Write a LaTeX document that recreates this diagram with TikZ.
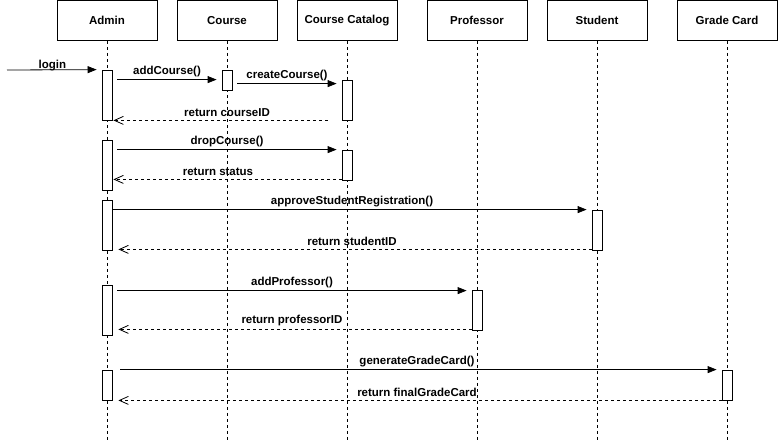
\documentclass[tikz,border=0pt]{standalone}
\usepackage{fontspec}
\setmainfont{Liberation Sans}
\usetikzlibrary{arrows.meta}
\tikzset{
	head/.style={draw, minimum width=100pt, minimum height=40pt, font=\fontsize{11.5}{14}\selectfont\bfseries},
	life/.style={dash pattern=on 3pt off 3pt},
	act/.style={draw, fill=white, minimum width=10pt, inner sep=0pt},
	call/.style={-{Triangle[length=9pt,width=7pt]}, shorten <=5pt, shorten >=5pt},
	ret/.style={dash pattern=on 3pt off 3pt, -{Straight Barb[length=9pt,width=8pt]}, shorten >=1pt},
	msg/.style={midway, above, inner sep=2pt, font=\fontsize{11.5}{14}\selectfont\bfseries}
}
\begin{document}
\begin{tikzpicture}[x=1pt, y=-1pt, line width=0.8pt]
	\useasboundingbox (0,0) rectangle (778,441);
	\node[head] (admin) at (107,20.5) {Admin};
	\node[head] (course) at (227,20.5) {Course};
	\node[head] (catalog) at (347,20.5) {Course Catalog};
	\node[head] (professor) at (477,20.5) {Professor};
	\node[head] (student) at (597,20.5) {Student};
	\node[head] (grade) at (727,20.5) {Grade Card};
	\foreach \n/\x in {admin/107, course/227, catalog/347, professor/477, student/597, grade/727}{
		\coordinate (\n end) at (\x,441);
		\draw[life] (\n) -- (\n end);
	}

	\node[act, minimum height=50pt] (ad1) at (107,95) {};
	\node[act, minimum height=50pt] (ad2) at (107,165) {};
	\node[act, minimum height=50pt] (ad3) at (107,225) {};
	\node[act, minimum height=50pt] (ad4) at (107,310) {};
	\node[act, minimum height=30pt] (ad5) at (107,385) {};
	\node[act, minimum height=20pt] (co1) at (227,80) {};
	\node[act, minimum height=40pt] (cc1) at (347,100) {};
	\node[act, minimum height=30pt] (cc2) at (347,165) {};
	\node[act, minimum height=40pt] (st1) at (597,230) {};
	\node[act, minimum height=40pt] (pr1) at (477,310) {};
	\node[act, minimum height=30pt] (gc1) at (727,385) {};

	\coordinate (start) at (7,70);
	\draw[call, shorten <=0pt] (start) -- (ad1.north west) node[msg, yshift=-4pt, xshift=-2pt]{login};
	\draw[call] ([yshift=-10pt]ad1.north east) -- ([yshift=-10pt]ad1.north east -| co1.west) node[msg]{addCourse()};
	\draw[call] ([yshift=-14pt]co1.north east) -- ([yshift=-14pt]co1.north east -| cc1.west) node[msg]{createCourse()};
	\draw[ret, shorten <=14pt] (cc1.south west) -- (cc1.south west -| ad1.east) node[msg, inner sep=3pt]{return courseID};
	\draw[call] ([yshift=-10pt]ad2.north east) -- ([yshift=-10pt]ad2.north east -| cc2.west) node[msg]{dropCourse()};
	\draw[ret] ([yshift=1pt]cc2.south west) -- ([yshift=1pt]cc2.south west -| ad2.east) node[msg, inner sep=3pt, xshift=-9pt]{return status};
	\draw[call, shorten <=0pt] ([yshift=-10pt]ad3.north east) -- (st1.north west) node[msg]{approveStudentRegistration()};
	\draw[ret, shorten >=6pt] ([yshift=1pt]st1.south west) -- ([yshift=1pt]st1.south west -| ad3.east) node[msg, inner sep=3pt]{return studentID};
	\draw[call] ([yshift=-6pt]ad4.north east) -- ([yshift=-6pt]ad4.north east -| pr1.west) node[msg]{addProfessor()};
	\draw[ret, shorten >=6pt] ([yshift=1pt]pr1.south west) -- ([yshift=1pt]pr1.south west -| ad4.east) node[msg, inner sep=3pt]{return professorID};
	\draw[call, shorten <=8pt] (ad5.north east) -- (gc1.north west) node[msg]{generateGradeCard()};
	\draw[ret, shorten >=6pt] (gc1.south west) -- (ad5.south east) node[msg, inner sep=3pt]{return finalGradeCard};
\end{tikzpicture}
\end{document}
